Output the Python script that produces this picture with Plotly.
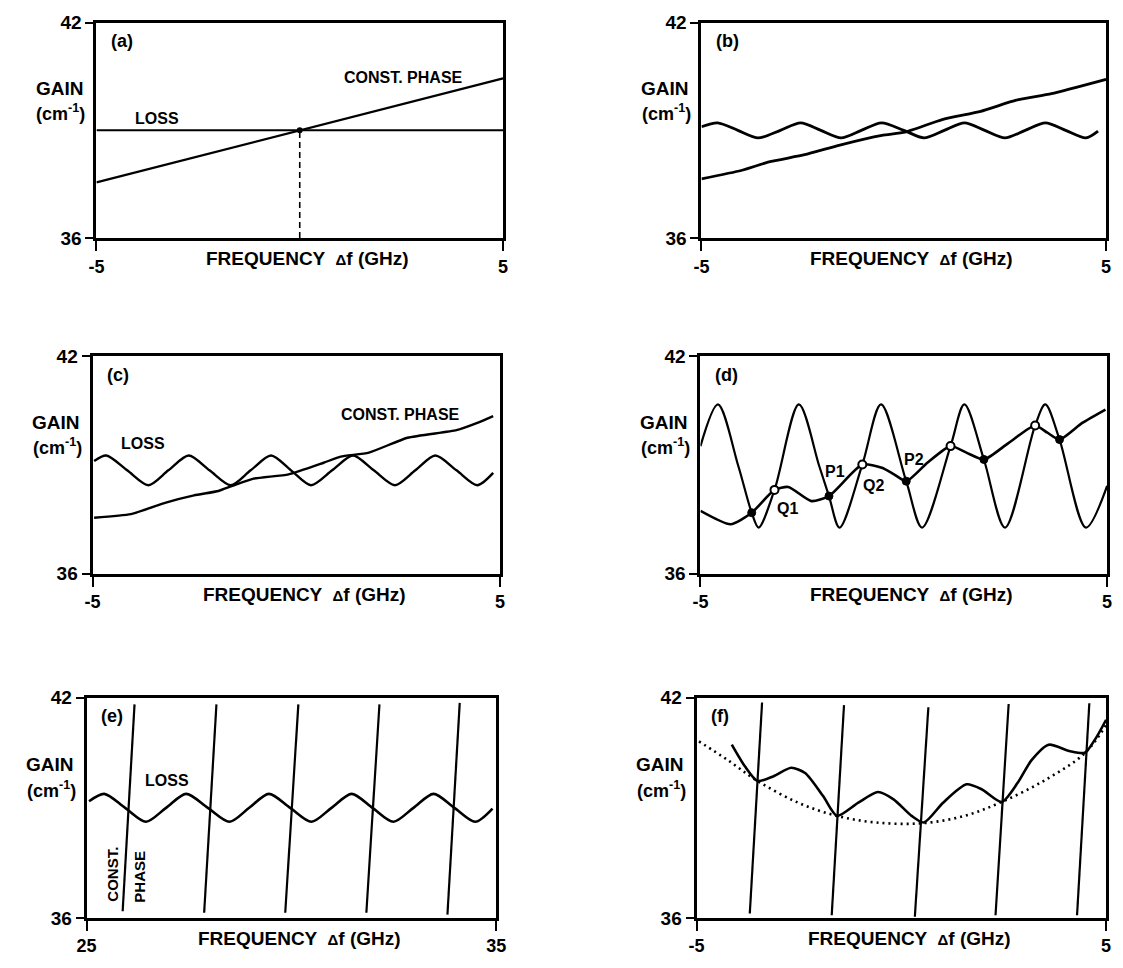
import plotly.graph_objects as go

# ---------------- data (gain in cm^-1, frequency offset in GHz) ----------------
# (a) straight loss line and straight constant-phase line
a_loss_x = [-5.0, 5.0]
a_loss_y = [39.0, 39.0]
a_phase_x = [-5.0, 5.0]
a_phase_y = [37.55, 40.45]
a_cross_x = [0.0]
a_cross_y = [39.0]

# (b) weakly rippled loss, gently rising phase curve
b_loss_x = [-5.0, -4.6, -4.1, -3.6, -3.05, -2.55, -2.05, -1.55, -1.05, -0.55, 0.0,
            0.5, 1.0, 1.5, 2.0, 2.5, 3.0, 3.5, 4.0, 4.5, 4.8]
b_loss_y = [39.1, 39.21, 39.0, 38.79, 39.0, 39.21, 39.0, 38.79, 39.0, 39.21, 39.0,
            38.79, 39.0, 39.21, 39.0, 38.79, 39.0, 39.21, 39.0, 38.79, 38.98]
b_phase_x = [-5.0, -4.02, -3.33, -2.45, -1.58, -0.54, 0.03, 0.95, 1.9, 2.78, 3.65, 5.0]
b_phase_y = [37.65, 37.88, 38.12, 38.32, 38.59, 38.86, 38.95, 39.3, 39.53, 39.84, 40.02, 40.42]

# (c) stronger ripple on the loss curve
c_loss_x = [-4.96, -4.66, -4.15, -3.63, -3.14, -2.64, -2.13, -1.61, -1.12, -0.62, -0.13,
            0.36, 0.88, 1.39, 1.9, 2.42, 2.92, 3.41, 3.93, 4.44, 4.83]
c_loss_y = [39.11, 39.26, 38.85, 38.44, 38.85, 39.26, 38.85, 38.44, 38.85, 39.26, 38.85,
            38.44, 38.85, 39.26, 38.85, 38.44, 38.85, 39.26, 38.85, 38.44, 38.78]
c_phase_x = [-4.96, -4.06, -3.2, -2.51, -1.91, -1.57, -1.05, -0.19, 0.67, 1.09, 1.78,
             2.73, 3.93, 4.44, 4.83]
c_phase_y = [37.54, 37.64, 37.96, 38.16, 38.28, 38.42, 38.62, 38.74, 39.06, 39.23, 39.34,
             39.75, 39.96, 40.16, 40.35]

# (d) large loss modulation; P = stable (filled), Q = unstable (open) intersections
d_loss_x = [-5.0, -4.57, -4.07, -3.74, -3.57, -3.18, -2.58, -2.08, -1.84, -1.58, -1.02,
            -0.56, 0.06, 0.45, 1.15, 1.49, 1.97, 2.49, 3.23, 3.48, 3.83, 4.48, 5.0]
d_loss_y = [39.52, 40.67, 38.97, 37.68, 37.27, 38.31, 40.67, 38.97, 38.14, 37.27, 39.01,
            40.67, 38.55, 37.27, 39.52, 40.67, 39.15, 37.27, 40.09, 40.67, 39.7, 37.27, 38.42]
d_phase_x = [-5.0, -4.26, -3.74, -3.18, -2.84, -2.27, -1.84, -1.02, -0.54, -0.24, 0.06,
             0.58, 1.15, 1.54, 1.97, 2.58, 3.23, 3.53, 3.83, 4.39, 4.96]
d_phase_y = [37.73, 37.36, 37.68, 38.31, 38.39, 38.0, 38.14, 39.01, 38.92, 38.74, 38.55,
             39.06, 39.52, 39.34, 39.15, 39.61, 40.09, 39.89, 39.7, 40.16, 40.53]
d_stable_x = [-3.74, -1.84, 0.06, 1.97, 3.83]
d_stable_y = [37.68, 38.14, 38.55, 39.15, 39.7]
d_unstable_x = [-3.18, -1.02, 1.15, 3.23]
d_unstable_y = [38.31, 39.01, 39.52, 40.09]

# (e) 25-35 GHz: loss ripple and steep constant-phase branches
e_loss_x = [25.06, 25.43, 25.94, 26.45, 26.94, 27.43, 27.96, 28.49, 28.97, 29.45, 29.97,
            30.49, 30.98, 31.47, 31.98, 32.49, 32.98, 33.47, 33.98, 34.49, 34.91]
e_loss_y = [39.18, 39.38, 39.0, 38.62, 39.0, 39.38, 39.0, 38.62, 39.0, 39.38, 39.0,
            38.62, 39.0, 39.38, 39.0, 38.62, 39.0, 39.38, 39.0, 38.62, 38.98]
e_branch_x0 = [25.88, 27.87, 29.85, 31.83, 33.81]
e_branch_y0 = [36.18, 36.14, 36.14, 36.14, 36.09]
e_branch_x1 = [26.17, 28.17, 30.17, 32.15, 34.11]
e_branch_y1 = [41.82, 41.82, 41.82, 41.82, 41.86]

# (f) required gain with its lower envelope (dotted)
f_gain_x = [-4.14, -3.82, -3.51, -3.12, -2.69, -2.35, -1.91, -1.57, -1.05, -0.57, -0.19,
            0.25, 0.55, 1.02, 1.59, 1.97, 2.45, 2.84, 3.18, 3.6, 4.1, 4.48, 4.75, 5.0]
f_gain_y = [40.72, 40.13, 39.73, 39.86, 40.09, 39.95, 39.32, 38.78, 39.14, 39.43, 39.23,
            38.78, 38.6, 39.14, 39.64, 39.5, 39.16, 39.68, 40.3, 40.72, 40.55, 40.5, 40.9, 41.4]
f_env_x = [-4.94, -4.25, -3.51, -2.52, -1.57, -0.62, 0.51, 1.54, 2.45, 3.53, 4.48, 5.0]
f_env_y = [40.81, 40.31, 39.73, 39.14, 38.78, 38.6, 38.58, 38.78, 39.16, 39.77, 40.49, 41.26]
f_branch_x0 = [-3.70, -1.70, 0.33, 2.30, 4.29]
f_branch_y0 = [36.12, 36.07, 36.03, 36.07, 36.07]
f_branch_x1 = [-3.40, -1.40, 0.66, 2.62, 4.59]
f_branch_y1 = [41.87, 41.80, 41.74, 41.83, 41.85]

y_ticks = [36, 42]
y_ticktext = ["36", "42"]

# ---------------- layout geometry (pixels on a 1123 x 968 page) ----------------
W, H = 1123, 968
panels = {
    "a": dict(px=(88, 502), py=(13, 233), xr=(-5, 5), xt=["-5", "5"]),
    "b": dict(px=(704, 1116), py=(13, 233), xr=(-5, 5), xt=["-5", "5"]),
    "c": dict(px=(84, 499), py=(354, 576), xr=(-5, 5), xt=["-5", "5"]),
    "d": dict(px=(703, 1117), py=(354, 576), xr=(-5, 5), xt=["-5", "5"]),
    "e": dict(px=(78, 495), py=(703, 928), xr=(25, 35), xt=["25", "35"]),
    "f": dict(px=(699, 1116), py=(703, 928), xr=(-5, 5), xt=["-5", "5"]),
}

FONT = "Liberation Sans, Arial, sans-serif"
INK = "black"

fig = go.Figure()
layout = dict(
    width=W, height=H, margin=dict(l=0, r=0, t=0, b=0),
    paper_bgcolor="white", plot_bgcolor="white", showlegend=False,
    font=dict(family=FONT, color=INK, size=16),
)
annotations = []

for i, (key, p) in enumerate(panels.items(), start=1):
    sfx = "" if i == 1 else str(i)
    xd = [p["px"][0] / W, p["px"][1] / W]
    yd = [1 - p["py"][1] / H, 1 - p["py"][0] / H]
    layout["xaxis" + sfx] = dict(
        domain=xd, range=list(p["xr"]), anchor="y" + sfx,
        showline=True, linewidth=3, linecolor=INK, mirror=True,
        ticks="outside", ticklen=10, tickwidth=1.5, tickcolor=INK,
        tickvals=list(p["xr"]), ticktext=["<b>%s</b>" % t for t in p["xt"]],
        tickfont=dict(size=18, family=FONT, color=INK),
        showgrid=False, zeroline=False, fixedrange=True,
    )
    layout["yaxis" + sfx] = dict(
        domain=yd, range=[36, 42], anchor="x" + sfx,
        showline=True, linewidth=3, linecolor=INK, mirror=True,
        ticks="outside", ticklen=8, tickwidth=1.5, tickcolor=INK,
        tickvals=y_ticks, ticktext=["<b>%s</b>" % t for t in y_ticktext],
        tickfont=dict(size=19, family=FONT, color=INK),
        showgrid=False, zeroline=False, fixedrange=True,
    )
    xr, yr = "x" + sfx, "y" + sfx
    # panel tag
    annotations.append(dict(xref=xr + " domain", yref=yr + " domain", x=0.03, y=0.97,
                            xanchor="left", yanchor="top", showarrow=False,
                            text="<b>(%s)</b>" % key, font=dict(size=18)))
    # vertical-axis caption
    annotations.append(dict(xref=xr + " domain", yref=yr + " domain", x=-0.025, y=0.695,
                            xanchor="right", yanchor="middle", showarrow=False,
                            text="<b>GAIN</b>", font=dict(size=19)))
    annotations.append(dict(xref=xr + " domain", yref=yr + " domain", x=-0.022, y=0.585,
                            xanchor="right", yanchor="middle", showarrow=False,
                            text="<b>(cm<sup>-1</sup>)</b>", font=dict(size=18)))
    # horizontal-axis caption
    annotations.append(dict(xref=xr + " domain", yref=yr + " domain", x=0.52, y=-0.095,
                            xanchor="center", yanchor="middle", showarrow=False,
                            text="<b>FREQUENCY  <span style='font-size:15px'>\u0394</span>f (GHz)</b>",
                            font=dict(size=19)))

fig.update_layout(**layout)


def curve(x, y, xa, ya, width=2.6, dash="solid", shape="spline", smoothing=0.8):
    line = dict(color=INK, width=width, dash=dash, shape=shape)
    if shape == "spline":
        line["smoothing"] = smoothing
    fig.add_trace(go.Scatter(x=x, y=y, mode="lines", line=line,
                             xaxis=xa, yaxis=ya, hoverinfo="skip"))


# (a)
curve(a_loss_x, a_loss_y, "x", "y", width=2.0, shape="linear")
curve(a_phase_x, a_phase_y, "x", "y", width=2.2, shape="linear")
fig.add_trace(go.Scatter(x=[a_cross_x[0], a_cross_x[0]], y=[36, a_cross_y[0]], mode="lines",
                         line=dict(color=INK, width=1.6, dash="6px,4px"),
                         xaxis="x", yaxis="y", hoverinfo="skip"))
fig.add_trace(go.Scatter(x=a_cross_x, y=a_cross_y, mode="markers",
                         marker=dict(color=INK, size=6), xaxis="x", yaxis="y", hoverinfo="skip"))

# (b)
curve(b_loss_x, b_loss_y, "x2", "y2", width=2.8)
curve(b_phase_x, b_phase_y, "x2", "y2", width=2.8, smoothing=0.5)

# (c)
curve(c_loss_x, c_loss_y, "x3", "y3", width=2.4)
curve(c_phase_x, c_phase_y, "x3", "y3", width=2.4, smoothing=0.5)

# (d)
curve(d_loss_x, d_loss_y, "x4", "y4", width=2.2, smoothing=0.9)
curve(d_phase_x, d_phase_y, "x4", "y4", width=2.6, smoothing=0.6)
fig.add_trace(go.Scatter(x=d_stable_x, y=d_stable_y, mode="markers",
                         marker=dict(color=INK, size=8, line=dict(color=INK, width=1)),
                         xaxis="x4", yaxis="y4", hoverinfo="skip"))
fig.add_trace(go.Scatter(x=d_unstable_x, y=d_unstable_y, mode="markers",
                         marker=dict(color="white", size=8, line=dict(color=INK, width=2)),
                         xaxis="x4", yaxis="y4", hoverinfo="skip"))

# (e)
curve(e_loss_x, e_loss_y, "x5", "y5", width=2.6)
for x0, y0, x1, y1 in zip(e_branch_x0, e_branch_y0, e_branch_x1, e_branch_y1):
    curve([x0, x1], [y0, y1], "x5", "y5", width=2.2, shape="linear")

# (f)
curve(f_env_x, f_env_y, "x6", "y6", width=2.6, dash="2px,4px", smoothing=1.0)
curve(f_gain_x, f_gain_y, "x6", "y6", width=2.6, smoothing=0.7)
for x0, y0, x1, y1 in zip(f_branch_x0, f_branch_y0, f_branch_x1, f_branch_y1):
    curve([x0, x1], [y0, y1], "x6", "y6", width=2.2, shape="linear")

# in-plot captions
lab = dict(showarrow=False, font=dict(size=16))
annotations += [
    dict(xref="x", yref="y", x=-3.5, y=39.33, text="<b>LOSS</b>", **lab),
    dict(xref="x", yref="y", x=2.55, y=40.47, text="<b>CONST. PHASE</b>", **lab),
    dict(xref="x3", yref="y3", x=-3.75, y=39.6, text="<b>LOSS</b>", **lab),
    dict(xref="x3", yref="y3", x=2.55, y=40.4, text="<b>CONST. PHASE</b>", **lab),
    dict(xref="x4", yref="y4", x=-2.85, y=37.8, text="<b>Q1</b>", **lab),
    dict(xref="x4", yref="y4", x=-1.68, y=38.83, text="<b>P1</b>", **lab),
    dict(xref="x4", yref="y4", x=-0.74, y=38.42, text="<b>Q2</b>", **lab),
    dict(xref="x4", yref="y4", x=0.26, y=39.15, text="<b>P2</b>", **lab),
    dict(xref="x5", yref="y5", x=26.96, y=39.74, text="<b>LOSS</b>", **lab),
    dict(xref="x5", yref="y5", x=25.64, y=37.2, text="<b>CONST.</b>", textangle=-90,
         showarrow=False, font=dict(size=15)),
    dict(xref="x5", yref="y5", x=26.3, y=37.12, text="<b>PHASE</b>", textangle=-90,
         showarrow=False, font=dict(size=15)),
]
fig.update_layout(annotations=annotations)

fig.write_html("out.html")
